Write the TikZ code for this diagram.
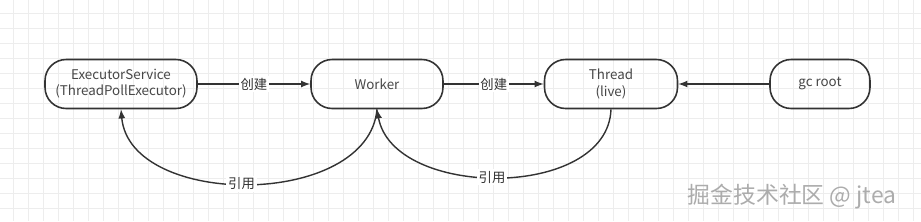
\documentclass[tikz,border=0pt]{standalone}
\usepackage{fontspec}
\setmainfont{Noto Sans CJK SC}
\usetikzlibrary{arrows.meta,calc,positioning}
\definecolor{linegray}{HTML}{333333}
\definecolor{gridgray}{HTML}{EDEDED}
\tikzset{
  rbox/.style={draw=linegray, line width=0.9pt, rounded corners=12pt, minimum height=0.98cm,
    align=center, font=\fontsize{7.6}{9.2}\selectfont, text=linegray!90},
  lbl/.style={fill=white, inner sep=1pt, font=\fontsize{7.6}{9}\selectfont, text=linegray},
  conn/.style={-latex, draw=linegray, line width=0.8pt}
}
\begin{document}
\begin{tikzpicture}[x=0.02cm, y=-0.02cm]
        % background grid
        \useasboundingbox (0,0) rectangle (921,221);
        \fill[white] (0,0) rectangle (921,221);
        \foreach \i in {13,28,...,921} \draw[gridgray, line width=0.5pt] (\i,0) -- (\i,221);
        \foreach \j in {13,28,...,221} \draw[gridgray, line width=0.5pt] (0,\j) -- (921,\j);

        % the boxes
        \node[rbox, minimum width=3.04cm] (exec) at (121,84) {ExecutorService\\(ThreadPollExecutor)};
        \node[rbox, minimum width=2.64cm] (worker) at (377,84) {Worker};
        \node[rbox, minimum width=2.66cm] (thread) at (611,84) {Thread\\(live)};
        \node[rbox, minimum width=2.0cm] (gcroot) at (820,84) {gc root};

        % create
        \draw[conn] (exec) -- node[lbl] {创建} (worker);
        \draw[conn] (worker) -- node[lbl] {创建} (thread);
        \draw[conn] (gcroot) -- (thread);

        % references
        \draw[conn] (worker.south) to[out=-95, in=-85] node[lbl, pos=0.52] {引用} (exec.south);
        \draw[conn] (thread.south) to[out=-92, in=-80] node[lbl, pos=0.52] {引用} (worker.south);

        % watermark
        \node[text=gray!65, font=\fontsize{13}{14}\selectfont] (mark) at (792,197) {掘金技术社区 @ jtea};
\end{tikzpicture}
\end{document}
